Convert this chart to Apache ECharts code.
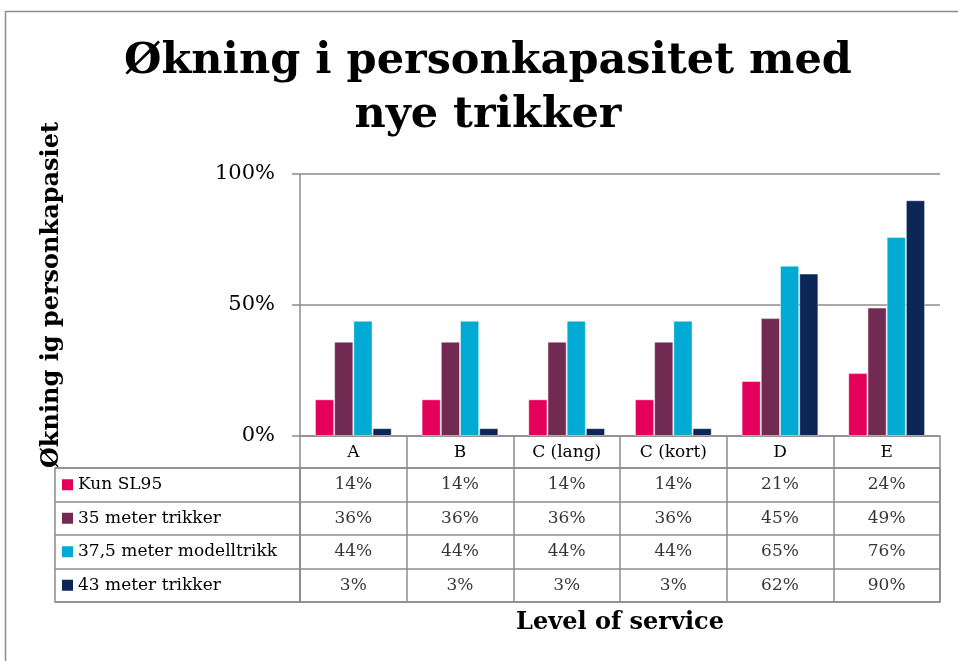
<!DOCTYPE html>
<html>
<head>
<meta charset="utf-8">
<title>Økning i personkapasitet</title>
<script src="https://cdn.jsdelivr.net/npm/echarts@6/dist/echarts.min.js"></script>
<style>
  html, body { margin: 0; padding: 0; background: #fff; }
  #chart { width: 958px; height: 661px; }
</style>
</head>
<body>
<div id="chart"></div>
<script>
// data
var categories = ['A', 'B', 'C (lang)', 'C (kort)', 'D', 'E'];
var seriesNames = ['Kun SL95', '35 meter trikker', '37,5 meter modelltrikk', '43 meter trikker'];
var kunSL95 = [0.14, 0.14, 0.14, 0.14, 0.21, 0.24];
var meter35 = [0.36, 0.36, 0.36, 0.36, 0.45, 0.49];
var meter375 = [0.44, 0.44, 0.44, 0.44, 0.65, 0.76];
var meter43 = [0.03, 0.03, 0.03, 0.03, 0.62, 0.90];
var yTicks = [0, 0.5, 1];

var colors = ['#E4005A', '#732A52', '#00AAD2', '#0D2658'];
var allValues = [kunSL95, meter35, meter375, meter43];
var font = 'DejaVu Serif';
var lineColor = '#8C8C8C';

function pct(v) { return Math.round(v * 100) + '%'; }

// celler til datatabellen
var cells = [];
for (var s = 0; s < allValues.length; s++) {
  for (var c = 0; c < categories.length; c++) {
    cells.push([c, s, allValues[s][c]]);
  }
}

var barSeries = [];
for (var i = 0; i < seriesNames.length; i++) {
  barSeries.push({
    name: seriesNames[i],
    type: 'bar',
    xAxisIndex: 0,
    yAxisIndex: 0,
    barGap: '0%',
    barCategoryGap: '28%',
    itemStyle: { color: colors[i], borderColor: 'rgba(255,255,255,0.45)', borderWidth: 1 },
    data: allValues[i]
  });
}

var rich = {};
for (var k = 0; k < colors.length; k++) {
  rich['s' + k] = { width: 11, height: 11, backgroundColor: colors[k] };
}
rich.t = { fontFamily: font, fontSize: 17, color: '#000', padding: [0, 0, 0, 5] };

var myChart = echarts.init(document.getElementById('chart'));
var option = {
  animation: false,
  title: {
    text: 'Økning i personkapasitet med\nnye trikker',
    left: 483,
    top: 30,
    textAlign: 'center',
    textStyle: { fontFamily: font, fontWeight: 'bold', fontSize: 43, lineHeight: 54, color: '#000' }
  },
  graphic: [{
    type: 'rect',
    left: 3, top: 9,
    shape: { width: 990, height: 700 },
    style: { fill: 'none', stroke: lineColor, lineWidth: 1.5 },
    silent: true
  }],
  grid: [
    { left: 300, top: 174, width: 640, height: 262 },
    { left: 300, top: 468, width: 640, height: 134, show: true, borderColor: lineColor, borderWidth: 1.5 },
    { left: 55, top: 468, width: 245, height: 134, show: true, borderColor: lineColor, borderWidth: 1.5 }
  ],
  xAxis: [
    {
      type: 'category', gridIndex: 0, data: categories,
      axisLine: { lineStyle: { color: lineColor, width: 1.5 } },
      axisTick: { show: true, length: 32, lineStyle: { color: lineColor, width: 1.5 } },
      axisLabel: { fontFamily: font, fontSize: 17, color: '#000', margin: 8 }
    },
    {
      type: 'category', gridIndex: 1, data: categories,
      axisLine: { show: false }, axisTick: { show: false }, axisLabel: { show: false },
      splitLine: { show: true, lineStyle: { color: lineColor, width: 1.5 } },
      name: 'Level of service', nameLocation: 'middle', nameGap: 9,
      nameTextStyle: { fontFamily: font, fontWeight: 'bold', fontSize: 24, color: '#000' }
    },
    {
      type: 'category', gridIndex: 2, data: [''],
      axisLine: { show: false }, axisTick: { show: false }, axisLabel: { show: false }
    }
  ],
  yAxis: [
    {
      type: 'value', gridIndex: 0, min: 0, max: 1, interval: 0.5,
      axisLine: { show: true, lineStyle: { color: lineColor, width: 1.5 } },
      axisTick: { show: true, length: 8, lineStyle: { color: lineColor, width: 1.5 } },
      axisLabel: {
        fontFamily: font, fontSize: 21, color: '#000', margin: 25,
        formatter: function (v) { return yTicks.indexOf(v) >= 0 ? pct(v) : ''; }
      },
      splitLine: { show: true, lineStyle: { color: lineColor, width: 1.5 } },
      name: 'Økning ig personkapasiet', nameLocation: 'middle', nameRotate: 90, nameGap: 236,
      nameTextStyle: { fontFamily: font, fontWeight: 'bold', fontSize: 24, color: '#000', padding: [0, 0, 0, 20] }
    },
    {
      type: 'category', gridIndex: 1, data: seriesNames, inverse: true,
      axisLine: { show: false }, axisTick: { show: false }, axisLabel: { show: false },
      splitLine: { show: true, lineStyle: { color: lineColor, width: 1.5 } }
    },
    {
      type: 'category', gridIndex: 2, data: seriesNames, inverse: true,
      axisLine: { show: false }, axisTick: { show: false },
      axisLabel: {
        inside: true, margin: 7, rich: rich,
        formatter: function (v, idx) { return '{s' + idx + '| }{t|' + v + '}'; }
      },
      splitLine: { show: true, lineStyle: { color: lineColor, width: 1.5 } }
    }
  ],
  series: barSeries.concat([{
    type: 'scatter',
    xAxisIndex: 1,
    yAxisIndex: 1,
    symbolSize: 1,
    itemStyle: { color: 'transparent' },
    label: {
      show: true, position: 'inside', fontFamily: font, fontSize: 17, color: '#000',
      formatter: function (p) { return pct(p.value[2]); }
    },
    data: cells
  }])
};
myChart.setOption(option);
window.onresize = function () { myChart.resize(); };
</script>
</body>
</html>
